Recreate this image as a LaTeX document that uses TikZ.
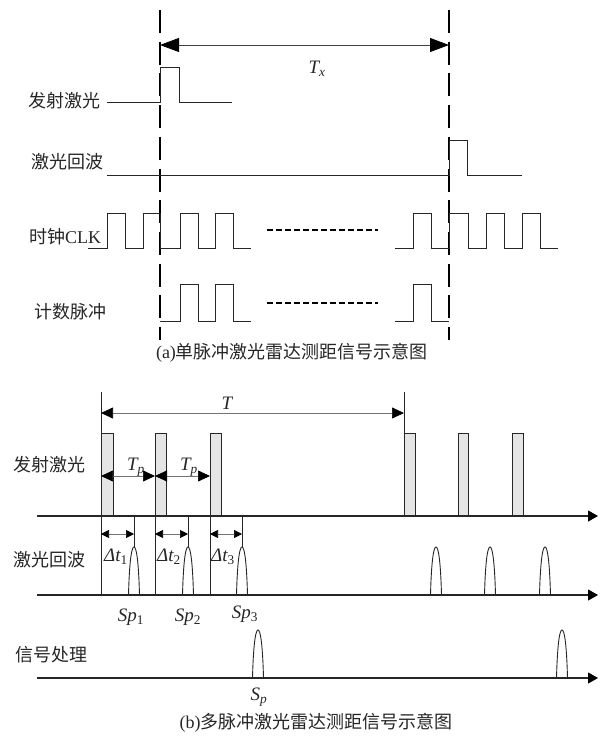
\documentclass[tikz,border=0pt]{standalone}
\usepackage{fontspec}
\setmainfont{Liberation Serif}
\newfontfamily\cjk{Noto Sans CJK SC}
\usetikzlibrary{arrows.meta}
\newcommand\itsub[2]{{\itshape #1}\textsubscript{#2}}
\begin{document}
\begin{tikzpicture}[x=1pt,y=-1pt,
  sig/.style={line width=0.9pt, line join=miter, draw=black!85},
  vdash/.style={line width=2.4pt, dash pattern=on 23pt off 8.7pt},
  hdots/.style={line width=2pt, dash pattern=on 5.5pt off 3.5pt},
  axis/.style={line width=1.1pt, draw=black!85, -{Triangle[length=10pt,width=11pt,color=black]}},
  dimbig/.style={line width=0.8pt, draw=black!75, {Triangle[length=19pt,width=14pt,color=black]}-{Triangle[length=19pt,width=14pt,color=black]}},
  dimmid/.style={line width=0.7pt, draw=black!55, {Triangle[length=12pt,width=11pt,color=black]}-{Triangle[length=12pt,width=11pt,color=black]}},
  dimsmall/.style={line width=0.7pt, draw=black!55, {Triangle[length=8pt,width=8pt,color=black]}-{Triangle[length=8pt,width=8pt,color=black]}},
  pulsebox/.style={draw=black!85, line width=0.9pt, fill=black!10},
  lbl/.style={font=\cjk\fontsize{18}{20}\selectfont, inner sep=0pt, anchor=west, text=black!85},
  captxt/.style={font=\fontsize{18}{20}\selectfont, inner sep=0pt, text=black!85},
  mlbl/.style={font=\fontsize{19}{22}\selectfont, inner sep=0pt, text=black!85},
  echopk/.pic={\draw[sig] (-5.5,0) .. controls (-4.5,-38) and (-2,-48) .. (0,-48) .. controls (2,-48) and (4.5,-38) .. (5.5,0);}
]
\useasboundingbox (0,0) rectangle (603,736);

% ---------- (a) ----------
\coordinate (da1) at (160,10); \coordinate (da2) at (160,340);
\coordinate (db1) at (449,10); \coordinate (db2) at (449,340);
\draw[vdash] (da1) -- (da2);
\draw[vdash] (db1) -- (db2);
\coordinate (txl) at (160,45); \coordinate (txr) at (449,45);
\draw[dimbig] (txl) -- (txr);
\node[mlbl] (tx) at (317,69) {\itsub{T}{\itshape x}};

\node[lbl] (a1) at (28,101) {发射激光};
\draw[sig] (107,102) -- (160,102) -- (160,67) -- (179,67) -- (179,102) -- (232,102);

\node[lbl] (a2) at (31,162) {激光回波};
\draw[sig] (107,175) -- (449,175) -- (449,140) -- (467,140) -- (467,175) -- (522,175);

\node[lbl] (a3) at (29,237) {时钟{\rmfamily CLK}};
\draw[sig] (88,248) -- (107,248) -- (107,213) -- (125,213) -- (125,248) -- (143,248) -- (143,213) -- (160,213) -- (160,248) -- (180,248) -- (180,213) -- (198,213) -- (198,248) -- (215,248) -- (215,213) -- (233,213) -- (233,248) -- (251,248);
\draw[sig] (395,248) -- (413,248) -- (413,213) -- (431,213) -- (431,248) -- (449,248) -- (449,213) -- (468,213) -- (468,248) -- (486,248) -- (486,213) -- (504,213) -- (504,248) -- (522,248) -- (522,213) -- (540,213) -- (540,248) -- (558,248);
\coordinate (c1) at (267,230); \coordinate (c2) at (378,230);
\draw[hdots] (c1) -- (c2);

\node[lbl] (a4) at (34,312) {计数脉冲};
\draw[sig] (160,321) -- (180,321) -- (180,284) -- (198,284) -- (198,321) -- (215,321) -- (215,284) -- (233,284) -- (233,321) -- (251,321);
\draw[sig] (395,321) -- (413,321) -- (413,284) -- (431,284) -- (431,321) -- (449,321);
\coordinate (n1) at (267,303); \coordinate (n2) at (378,303);
\draw[hdots] (n1) -- (n2);

\node[captxt] (capa) at (292,353) {(a){\cjk 单脉冲激光雷达测距信号示意图}};

% ---------- (b) ----------
\coordinate (ax1l) at (37,516); \coordinate (ax1r) at (598,516);
\coordinate (ax2l) at (37,595); \coordinate (ax2r) at (598,595);
\coordinate (ax3l) at (37,678); \coordinate (ax3r) at (598,678);

\node[lbl] (b1) at (13,465) {发射激光};
\node[lbl] (b2) at (13,560) {激光回波};
\node[lbl] (b3) at (15,655) {信号处理};

\draw[pulsebox] (101,433) rectangle (113,516);
\draw[pulsebox] (155,433) rectangle (166,516);
\draw[pulsebox] (210,433) rectangle (221,516);
\draw[pulsebox] (404,433) rectangle (415,516);
\draw[pulsebox] (458,433) rectangle (468,516);
\draw[pulsebox] (512,433) rectangle (523,516);

\draw[axis] (ax1l) -- (ax1r);
\draw[axis] (ax2l) -- (ax2r);
\draw[axis] (ax3l) -- (ax3r);

\draw[sig] (101,392) -- (101,595);
\draw[sig] (404,392) -- (404,516);
\draw[sig] (155,433) -- (155,595);
\draw[sig] (210,433) -- (210,595);

\coordinate (tl) at (101,413); \coordinate (tr) at (404,413);
\draw[dimmid] (tl) -- (tr);
\node[mlbl] (tlab) at (227,403) {\itshape T};

\coordinate (p1) at (101,476); \coordinate (p2) at (155,476); \coordinate (p3) at (210,476);
\draw[dimmid] (p1) -- (p2);
\draw[dimmid] (p2) -- (p3);
\node[mlbl] (tp1) at (136,467) {\itsub{T}{\itshape p}};
\node[mlbl] (tp2) at (189,467) {\itsub{T}{\itshape p}};

\draw[sig] (134,516) -- (134,547);
\draw[sig] (188,516) -- (188,547);
\draw[sig] (242,516) -- (242,547);

\coordinate (q1) at (101,534); \coordinate (q1e) at (134,534);
\coordinate (q2) at (155,534); \coordinate (q2e) at (188,534);
\coordinate (q3) at (210,534); \coordinate (q3e) at (242,534);
\draw[dimsmall] (q1) -- (q1e);
\draw[dimsmall] (q2) -- (q2e);
\draw[dimsmall] (q3) -- (q3e);
\node[mlbl] (dt1) at (116,557) {\itsub{Δt}{1}};
\node[mlbl] (dt2) at (169,557) {\itsub{Δt}{2}};
\node[mlbl] (dt3) at (223,557) {\itsub{Δt}{3}};

\pic at (134,595) {echopk};
\pic at (188,595) {echopk};
\pic at (242,595) {echopk};
\pic at (436,595) {echopk};
\pic at (490,595) {echopk};
\pic at (545,595) {echopk};
\pic at (258,678) {echopk};
\pic at (562,678) {echopk};

\node[mlbl] (sp1) at (131,617) {\itsub{Sp}{1}};
\node[mlbl] (sp2) at (188,617) {\itsub{Sp}{2}};
\node[mlbl] (sp3) at (245,614) {\itsub{Sp}{3}};
\node[mlbl] (spp) at (259,697) {\itsub{S}{\itshape p}};

\node[captxt] (capb) at (316,723) {(b){\cjk 多脉冲激光雷达测距信号示意图}};
\end{tikzpicture}
\end{document}
